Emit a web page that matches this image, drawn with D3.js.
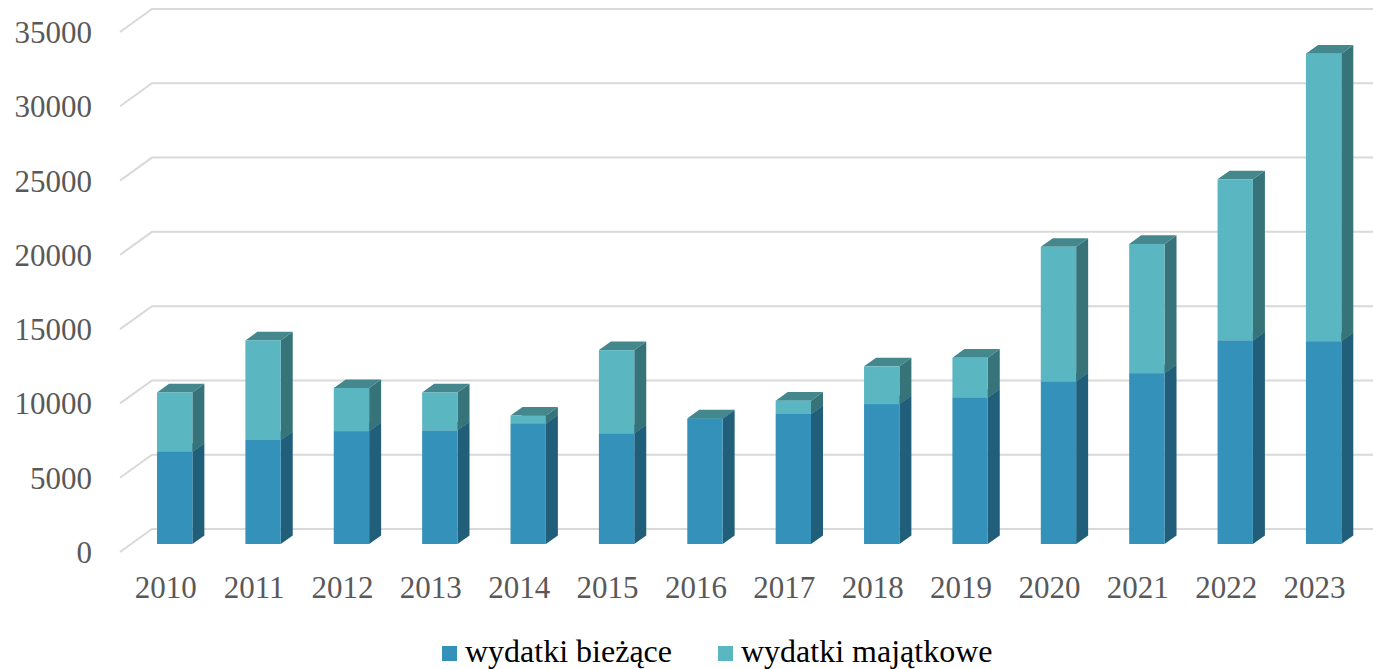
<!DOCTYPE html>
<html>
<head>
<meta charset="utf-8">
<script src="https://cdn.jsdelivr.net/npm/d3@7"></script>
<style>
  body { margin: 0; background: #fff; }
  svg { display: block; font-family: "Liberation Serif", "Times New Roman", serif; }
</style>
</head>
<body>
<div id="chart"></div>
<script>
// data
const years = ["2010","2011","2012","2013","2014","2015","2016","2017","2018","2019","2020","2021","2022","2023"];
const biezace   = [6200, 7000, 7600, 7650, 8100, 7450, 8420, 8750, 9420, 9860, 10950, 11500, 13700, 13650];
const majatkowe = [4000, 6700, 2900, 2550,  550, 5600,   30,  900, 2540, 2680,  9050,  8700, 10850, 19350];
const yTicks = [0, 5000, 10000, 15000, 20000, 25000, 30000, 35000];
const seriesNames = ["wydatki bieżące", "wydatki majątkowe"];

const W = 1373, H = 669;
const depthX = 32, depthY = 23;      // floor depth of the chart box
const barDX = 12, barDY = -8.6;      // depth of each bar

const colors = [
  { front: "#3391ba", side: "#215e79", top: "#2a7598" },
  { front: "#5ab6c0", side: "#377479", top: "#44878d" }
];

const svg = d3.select("#chart").append("svg")
  .attr("width", W).attr("height", H);

const y = d3.scaleLinear().domain([0, 35000]).range([529, 9]);   // back wall
const x = d3.scaleBand().domain(years)
  .range([130.5, 1367.8]).paddingInner(0.6).paddingOuter(0.3);

// gridlines: slanted floor part + horizontal back wall line
const grid = svg.append("g");
yTicks.forEach(t => {
  const yb = y(t);
  grid.append("path")
    .attr("d", `M120,${yb + depthY}L${120 + depthX},${yb}L${W},${yb}`)
    .attr("fill", "none").attr("stroke", "#d9d9d9").attr("stroke-width", 2);
  grid.append("text")
    .attr("x", 92).attr("y", yb + depthY + 11)
    .attr("text-anchor", "end")
    .attr("font-size", 31).attr("fill", "#595959")
    .text(t);
});

// stacked series
const rows = years.map((yr, i) => ({ year: yr, b: biezace[i], m: majatkowe[i] }));
const stack = d3.stack().keys(["b", "m"])(rows);

const yBar = v => y(v) + 15;   // front face of the bars
const bars = svg.append("g");
rows.forEach((r, i) => {
  const x0 = x(r.year), x1 = x0 + x.bandwidth();
  stack.forEach((s, k) => {
    const [v0, v1] = s[i];
    if (v1 <= v0) return;
    const yt = yBar(v1), yb = yBar(v0);
    const c = colors[k];
    const g = bars.append("g");
    g.append("path")
      .attr("d", `M${x1},${yb}L${x1 + barDX},${yb + barDY}L${x1 + barDX},${yt + barDY}L${x1},${yt}Z`)
      .attr("fill", c.side);
    g.append("path")
      .attr("d", `M${x0},${yt}L${x0 + barDX},${yt + barDY}L${x1 + barDX},${yt + barDY}L${x1},${yt}Z`)
      .attr("fill", c.top);
    g.append("rect")
      .attr("x", x0).attr("y", yt)
      .attr("width", x.bandwidth()).attr("height", yb - yt)
      .attr("fill", c.front);
  });
  svg.append("text")
    .attr("x", (x0 + x1) / 2 - 9).attr("y", 598)
    .attr("text-anchor", "middle")
    .attr("font-size", 31).attr("fill", "#595959")
    .text(r.year);
});

// legend
const legendX = [442, 718];
seriesNames.forEach((name, k) => {
  svg.append("rect")
    .attr("x", legendX[k]).attr("y", 646)
    .attr("width", 15).attr("height", 15)
    .attr("fill", colors[k].front);
  svg.append("text")
    .attr("x", legendX[k] + 23).attr("y", 662)
    .attr("font-size", 32).attr("fill", "#000")
    .text(name);
});
</script>
</body>
</html>
